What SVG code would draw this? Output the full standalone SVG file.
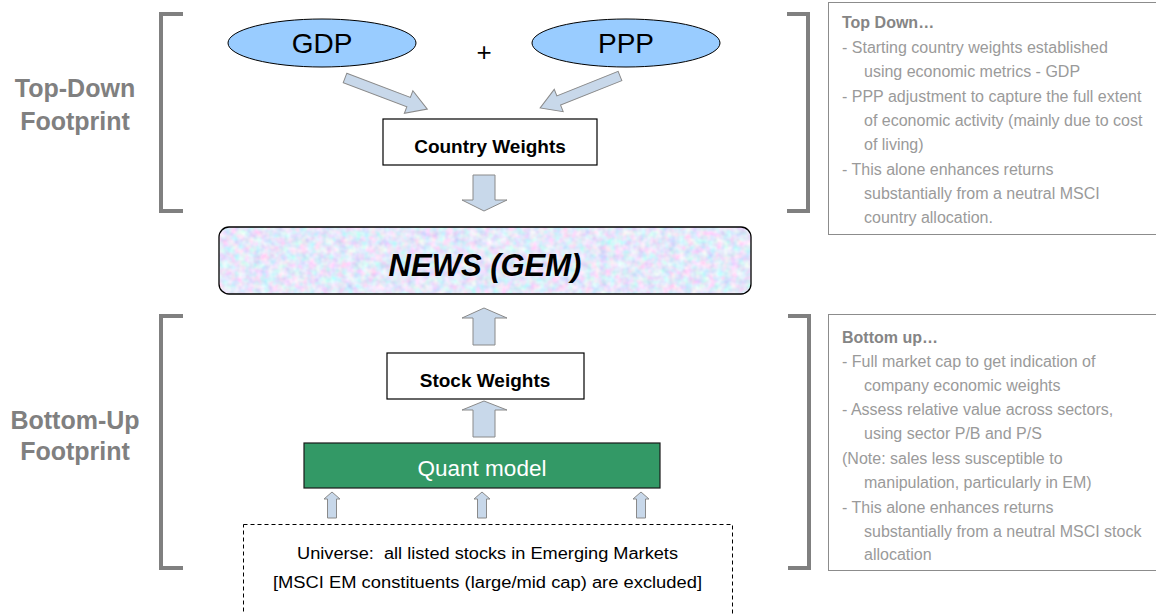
<svg xmlns="http://www.w3.org/2000/svg" width="1156" height="614" viewBox="0 0 1156 614">
<defs>
<style>
.brk{fill:none;stroke:#808080;stroke-width:4}
.side{font-family:"Liberation Sans",Arial,sans-serif;font-weight:bold;font-size:25px;fill:#808080;text-anchor:middle}
.ell{fill:#99ccff;stroke:#000;stroke-width:1}
.big{font-family:"Liberation Sans",Arial,sans-serif;font-size:28px;fill:#000;text-anchor:middle}
.box{fill:#fff;stroke:#000;stroke-width:1.2}
.bl{font-family:"Liberation Sans",Arial,sans-serif;font-weight:bold;font-size:19px;fill:#000;text-anchor:middle}
.arr{fill:#c8d8ea;stroke:#8a8a8a;stroke-width:1}
.note{fill:#fff;stroke:#8c8c8c;stroke-width:1}
.nt{font-family:"Liberation Sans",Arial,sans-serif;font-size:16px;fill:#9a9a9a}
.nh{font-family:"Liberation Sans",Arial,sans-serif;font-size:16px;font-weight:bold;fill:#858585}
.uni{font-family:"Liberation Sans",Arial,sans-serif;font-size:16px;fill:#000}
</style>
<filter id="noise" x="0" y="0" width="1" height="1">
<feTurbulence type="fractalNoise" baseFrequency="0.13" numOctaves="2" seed="3" result="t"/>
<feColorMatrix in="t" type="matrix" values="0.7 -0.25 0 0 0.555  0 0.55 0 0 0.535  0 0 0.2 0 0.85  0 0 0 0 1" result="c"/>
<feComposite in="c" in2="SourceGraphic" operator="in"/>
</filter>
</defs>
<rect width="1156" height="614" fill="#fff"/>

<g id="brackets">
<path class="brk" d="M183,14 H161 V211 H183"/>
<path class="brk" d="M183,316 H161 V568 H183"/>
<path class="brk" d="M787,14 H808 V211 H787"/>
<path class="brk" d="M788,316 H809 V568 H788"/>
</g>

<g id="labels">
<text class="side" x="75" y="97">Top-Down</text>
<text class="side" x="75" y="130">Footprint</text>
<text class="side" x="75" y="429">Bottom-Up</text>
<text class="side" x="75" y="460">Footprint</text>
</g>

<g id="gdp">
<ellipse class="ell" cx="322" cy="43" rx="94" ry="24"/>
<text class="big" x="322" y="53">GDP</text>
</g>
<g id="plus">
<text class="big" x="484" y="61" style="font-size:26px">+</text>
</g>
<g id="ppp">
<ellipse class="ell" cx="626" cy="43" rx="94" ry="24"/>
<text class="big" x="626" y="53">PPP</text>
</g>

<g id="country-weights">
<rect class="box" x="383" y="119" width="214" height="46"/>
<text class="bl" x="490" y="153">Country Weights</text>
</g>

<g id="news">
<rect x="219" y="227" width="532" height="67" rx="10" fill="#c8d4f0" filter="url(#noise)"/>
<rect x="219" y="227" width="532" height="67" rx="10" fill="none" stroke="#000" stroke-width="1.3"/>
<text x="485" y="276" font-family="Liberation Sans, Arial, sans-serif" font-size="31" font-weight="bold" font-style="italic" text-anchor="middle" fill="#000">NEWS (GEM)</text>
</g>

<g id="stock-weights">
<rect class="box" x="387" y="353" width="197" height="46"/>
<text class="bl" x="485" y="387">Stock Weights</text>
</g>

<g id="quant-model">
<rect x="304" y="443" width="356" height="45" fill="#339966" stroke="#1a1a1a" stroke-width="1.2"/>
<text x="482" y="476" font-family="Liberation Sans, Arial, sans-serif" font-size="22.5" fill="#fff" text-anchor="middle">Quant model</text>
</g>

<g id="universe">
<rect x="243.5" y="524.5" width="489" height="90" fill="none" stroke="#000" stroke-width="1" stroke-dasharray="4,3"/>
<text class="uni" x="297" y="559" textLength="381" lengthAdjust="spacingAndGlyphs" xml:space="preserve">Universe:  all listed stocks in Emerging Markets</text>
<text class="uni" x="273" y="588" textLength="429" lengthAdjust="spacingAndGlyphs">[MSCI EM constituents (large/mid cap) are excluded]</text>
</g>

<g id="connectors">
<polygon class="arr" transform="translate(345,78) rotate(20.7)" points="0,-5 68,-5 68,-12 88,0 68,12 68,5 0,5"/>
<polygon class="arr" transform="translate(620,76) rotate(158.2)" points="0,-5 66,-5 66,-12 86,0 66,12 66,5 0,5"/>
<polygon class="arr" points="473,175 495,175 495,200 507,200 484,211 462,200 473,200"/>
<polygon class="arr" points="473,345 495,345 495,318 507,318 484,308 462,318 473,318"/>
<polygon class="arr" points="473,437 495,437 495,410 507,410 484,401 462,410 473,410"/>
<polygon class="arr" points="327.5,518 336.5,518 336.5,499 340,499 332,492 324,499 327.5,499"/>
<polygon class="arr" points="477.5,518 486.5,518 486.5,499 490,499 482,492 474,499 477.5,499"/>
<polygon class="arr" points="636.5,518 645.5,518 645.5,499 649,499 641,492 633,499 636.5,499"/>
</g>

<g id="note-top-down">
<rect class="note" x="828.5" y="2.5" width="340" height="232"/>
<text class="nh" x="842" y="28">Top Down…</text>
<text class="nt" x="842" y="53">- Starting country weights established</text>
<text class="nt" x="864" y="77">using economic metrics - GDP</text>
<text class="nt" x="842" y="102">- PPP adjustment to capture the full extent</text>
<text class="nt" x="864" y="126">of economic activity (mainly due to cost</text>
<text class="nt" x="864" y="150">of living)</text>
<text class="nt" x="842" y="175">- This alone enhances returns</text>
<text class="nt" x="864" y="199">substantially from a neutral MSCI</text>
<text class="nt" x="864" y="223">country allocation.</text>
</g>

<g id="note-bottom-up">
<rect class="note" x="828.5" y="314.5" width="340" height="256"/>
<text class="nh" x="842" y="343">Bottom up…</text>
<text class="nt" x="842" y="367">- Full market cap to get indication of</text>
<text class="nt" x="864" y="391">company economic weights</text>
<text class="nt" x="842" y="415">- Assess relative value across sectors,</text>
<text class="nt" x="864" y="439">using sector P/B and P/S</text>
<text class="nt" x="842" y="464">(Note: sales less susceptible to</text>
<text class="nt" x="864" y="488">manipulation, particularly in EM)</text>
<text class="nt" x="842" y="513">- This alone enhances returns</text>
<text class="nt" x="864" y="537">substantially from a neutral MSCI stock</text>
<text class="nt" x="864" y="560">allocation</text>
</g>
</svg>
